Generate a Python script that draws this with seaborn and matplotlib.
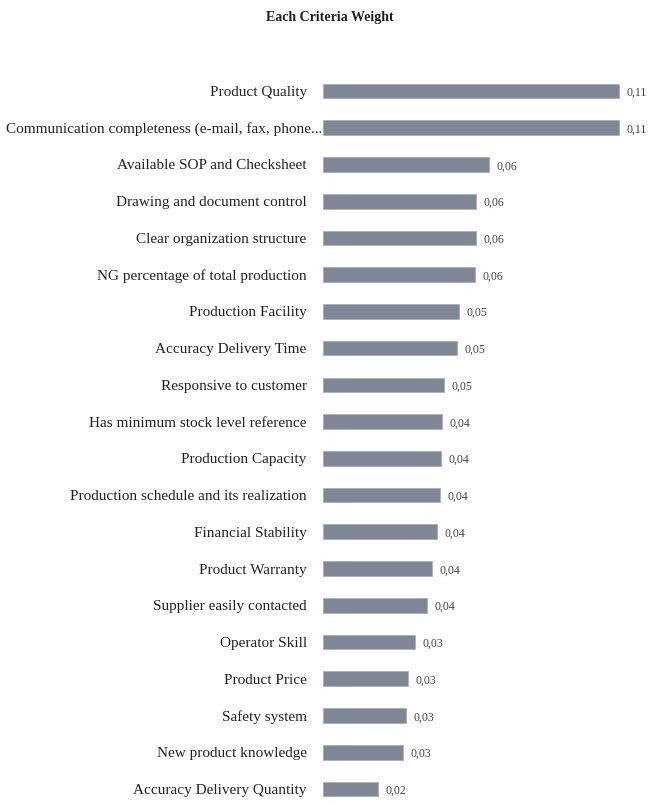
import matplotlib
matplotlib.use("Agg")
import matplotlib.pyplot as plt
import seaborn as sns
import pandas as pd

categories = [
    "Product Quality",
    "Communication completeness (e-mail, fax, phone...",
    "Available SOP and Checksheet",
    "Drawing and document control",
    "Clear organization structure",
    "NG percentage of total production",
    "Production Facility",
    "Accuracy Delivery Time",
    "Responsive to customer",
    "Has minimum stock level reference",
    "Production Capacity",
    "Production schedule and its realization",
    "Financial Stability",
    "Product Warranty",
    "Supplier easily contacted",
    "Operator Skill",
    "Product Price",
    "Safety system",
    "New product knowledge",
    "Accuracy Delivery Quantity",
]
weights = [0.111, 0.111, 0.0622, 0.0572, 0.0572, 0.0570, 0.0509, 0.0501, 0.0453,
           0.0447, 0.0443, 0.0437, 0.0427, 0.0407, 0.0388, 0.0343, 0.0319, 0.0309,
           0.0298, 0.0206]
title = "Each Criteria Weight"

sns.set_theme(style="white")
plt.rcParams["font.family"] = ["Liberation Serif", "DejaVu Serif"]

W, H = 659, 805
fig = plt.figure(figsize=(W / 100, H / 100), dpi=100)
x0, x1 = 323.3, 641.0
ytop, ybot = 72.6, 800.0
ax = fig.add_axes([x0 / W, 1 - ybot / H, (x1 - x0) / W, (ybot - ytop) / H])

df = pd.DataFrame({"cat": categories, "w": weights})
sns.barplot(data=df, x="w", y="cat", orient="h", color="#7f8796",
            saturation=1, width=0.4, ax=ax, edgecolor="#a9aeb8", linewidth=0.6)

ax.set_xlim(0, (x1 - x0) / 2664.0)
ax.set_ylim(19.3, -0.5)
for s in ax.spines.values():
    s.set_visible(False)
ax.set_xticks([])
ax.set_xlabel("")
ax.set_ylabel("")
ax.tick_params(axis="y", length=0, pad=12, labelsize=10.95, labelcolor="#222222")
# the long truncated label sits right against its bar in the reference
ax.yaxis.get_major_ticks()[1].set_pad(1)

for i, v in enumerate(weights):
    ax.text(v + 0.0028, i + 0.05, f"{v:.2f}".replace(".", ","), va="center", ha="left",
            fontsize=8.5, color="#444444")

fig.text(0.5, 1 - 17 / H, title, ha="center", va="center", fontsize=10,
         fontweight="bold", color="#222222")

fig.savefig("out.png", dpi=100, facecolor="white")
